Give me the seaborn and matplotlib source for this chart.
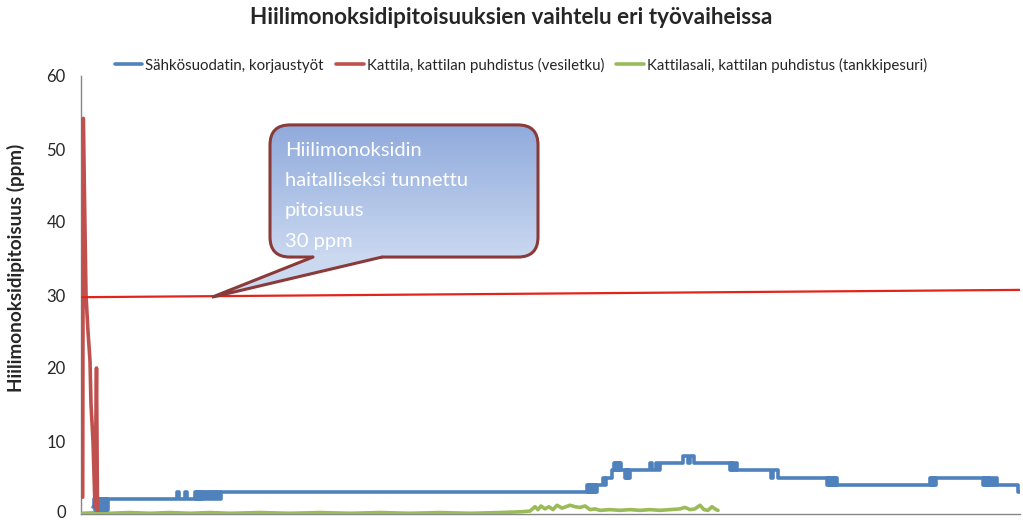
import numpy as np
import pandas as pd
import seaborn as sns
import matplotlib.pyplot as plt
import matplotlib.transforms as mtransforms
from matplotlib.patches import FancyBboxPatch, Polygon

# sample index (time axis has no labels in the original)
blue_x = [12, 13, 14, 15, 16, 17, 18, 19, 20, 21, 22, 23, 24, 25, 26, 27,
          96, 98, 104, 106,
          114, 115, 116, 117, 118, 119, 120, 121, 122, 124, 125, 127, 128, 130, 131, 133, 134, 136, 137, 139, 140, 143,
          506, 507, 508, 509, 510, 511, 512, 513, 514, 515, 516,
          522, 524, 525, 531, 533, 534, 535, 536, 537, 538, 539, 540, 544, 545, 546, 547, 548, 549,
          569, 571, 575, 577, 579,
          602, 607, 609, 613,
          649, 650, 651, 652, 653, 655, 656,
          690, 692, 697,
          746, 747, 748, 749, 750, 751, 752, 753, 754, 755, 756,
          849, 850, 851, 852, 853, 854, 855,
          902, 903, 904, 905, 906, 907, 908, 909, 910, 912, 913, 915, 916, 919,
          937, 939]
blue_y = [1, 2, 0.5, 2, 0.5, 2, 0.5, 2, 0.5, 2, 0.5, 2, 0.5, 2, 0.5, 2,
          3, 2, 3, 2,
          3, 2, 3, 2, 3, 2, 3, 2, 3, 2, 3, 2, 3, 2, 3, 2, 3, 2, 3, 2, 3, 3,
          4, 3, 4, 3, 4, 3, 4, 3, 4, 3, 4,
          5, 4, 5, 6, 7, 6, 7, 6, 7, 6, 7, 6, 5, 6, 5, 6, 5, 6,
          7, 6, 7, 6, 7,
          8, 7, 8, 7,
          6, 7, 6, 7, 6, 7, 6,
          5, 6, 5,
          4, 5, 4, 5, 4, 5, 4, 5, 4, 5, 4,
          5, 4, 5, 4, 5, 4, 5,
          4, 5, 4, 5, 4, 5, 4, 5, 4, 5, 4, 5, 4, 4,
          3, 3]

red_x = [1.7, 2.3, 5, 7, 9, 10, 12, 14, 15.5, 16.5]
red_y = [2.3, 54.2, 30, 25, 21, 15, 10, 1, 20, 0.5]

green_x = [1, 19, 29, 49, 69, 89, 109, 129, 149, 179, 209, 239, 269, 299, 329, 359, 389, 419, 439, 449,
           454, 457, 460, 464, 468, 472, 476, 481, 485, 489, 494, 499, 504, 509, 514, 519, 529, 539, 549,
           559, 569, 579, 589, 599, 604, 609, 614, 619, 623, 627, 631, 635, 637]
green_y = [0.1, 0.2, 0.1, 0.2, 0.1, 0.2, 0.1, 0.2, 0.1, 0.2, 0.1, 0.2, 0.1, 0.2, 0.1, 0.2, 0.1, 0.2, 0.3, 0.4,
           1.0, 0.6, 1.1, 0.7, 1.0, 0.6, 1.2, 0.8, 1.0, 1.2, 1.0, 0.9, 1.1, 0.6, 0.7, 0.5, 0.6, 0.5, 0.6,
           0.5, 0.6, 0.5, 0.6, 0.7, 0.9, 0.6, 0.7, 1.2, 0.6, 0.5, 1.0, 0.6, 0.5]

# 30 ppm limit line as drawn in the original (slightly tilted)
limit_x = [1, 939]
limit_y = [29.7, 30.7]

series_names = ["Sähkösuodatin, korjaustyöt",
                "Kattila, kattilan puhdistus (vesiletku)",
                "Kattilasali, kattilan puhdistus (tankkipesuri)"]
callout_lines = ["Hiilimonoksidin", "haitalliseksi tunnettu", "pitoisuus", "30 ppm"]
y_ticks = [0, 10, 20, 30, 40, 50, 60]

sns.set_theme(style="white")
plt.rcParams['font.family'] = ['Lato', 'DejaVu Sans']

fig = plt.figure(figsize=(10.23, 5.2), dpi=100)
ax = fig.add_axes([81 / 1023, 6 / 520, 939 / 1023, 438 / 520])

blue_df = pd.DataFrame({"x": blue_x, "y": blue_y})
red_df = pd.DataFrame({"x": red_x, "y": red_y})
green_df = pd.DataFrame({"x": green_x, "y": green_y})

sns.lineplot(data=green_df, x="x", y="y", ax=ax, color="#9BBB59", lw=2.6,
             estimator=None, label=series_names[2], zorder=3)
sns.lineplot(data=blue_df, x="x", y="y", ax=ax, color="#4F81BD", lw=2.6,
             estimator=None, drawstyle="steps-post", label=series_names[0], zorder=4)
sns.lineplot(data=red_df, x="x", y="y", ax=ax, color="#C0504D", lw=2.6,
             estimator=None, sort=False, label=series_names[1], zorder=5)

ax.plot(limit_x, limit_y, color="#E3241B", lw=1.6, zorder=6)

ax.set_xlim(0, 939)
ax.set_ylim(0, 60)
ax.set_yticks(y_ticks)
ax.set_xticks([])
ax.tick_params(axis="y", labelsize=12, colors="#262626", length=0, pad=11)
# lift the "0" label a little so it stays inside the picture
zero_lbl = ax.get_yticklabels()[0]
zero_lbl.set_transform(zero_lbl.get_transform() +
                       mtransforms.ScaledTranslation(0, 3 / 100, fig.dpi_scale_trans))
ax.set_xlabel("")
ax.set_ylabel("Hiilimonoksidipitoisuus (ppm)", fontsize=13.6, fontweight="bold")
ax.yaxis.set_label_coords(-0.0596, 0.562)
for side in ["top", "right"]:
    ax.spines[side].set_visible(False)
for side in ["left", "bottom"]:
    ax.spines[side].set_color("#868686")
    ax.spines[side].set_linewidth(1)
    ax.spines[side].set_zorder(2)

# legend on top
handles, labels = ax.get_legend_handles_labels()
order = [labels.index(n) for n in series_names]
ax.get_legend().remove()
fig.legend([handles[i] for i in order], [labels[i] for i in order], loc="center",
           bbox_to_anchor=(0.509, 1 - 65 / 520), ncol=3, frameon=False, fontsize=10.8,
           handlelength=1.85, handletextpad=0.2, columnspacing=0.8)

fig.suptitle("Hiilimonoksidipitoisuuksien vaihtelu eri työvaiheissa", x=0.5, y=1 - 18 / 520,
             va="center", fontsize=16.2, fontweight="bold")

# callout box with gradient fill
bx0, bx1, by0, by1 = 189, 457, 35.2, 53.3
box = FancyBboxPatch((bx0, by0), bx1 - bx0, by1 - by0,
                     boxstyle="round,pad=0,rounding_size=20", mutation_aspect=1 / 7.3,
                     facecolor="none", edgecolor="#8B3A3A", lw=2.2, zorder=8)
ax.add_patch(box)
grad = np.linspace(0, 1, 256).reshape(-1, 1)
top_c = np.array([143, 170, 220]) / 255
bot_c = np.array([202, 216, 240]) / 255
img = top_c * (1 - grad[..., None]) + bot_c * grad[..., None]
im = ax.imshow(img, extent=(bx0, bx1, by0, by1), origin="upper", aspect="auto", zorder=7)
im.set_clip_path(box)

tip = (131, 29.7)
ax.add_patch(Polygon([tip, (232, by0), (232, by0 + 0.5), (301, by0 + 0.5), (301, by0)],
                     closed=True, facecolor=bot_c, edgecolor="none", zorder=9))
ax.plot([232, tip[0], 301], [by0, tip[1], by0], color="#8B3A3A", lw=2.2, zorder=10,
        solid_joinstyle="miter")
ax.set_xlim(0, 939)
ax.set_ylim(0, 60)

ax.text(204, 51.0, "\n".join(callout_lines), color="white", fontsize=14.5,
        va="top", ha="left", linespacing=1.95, zorder=11)

fig.savefig("out.png", dpi=100)
